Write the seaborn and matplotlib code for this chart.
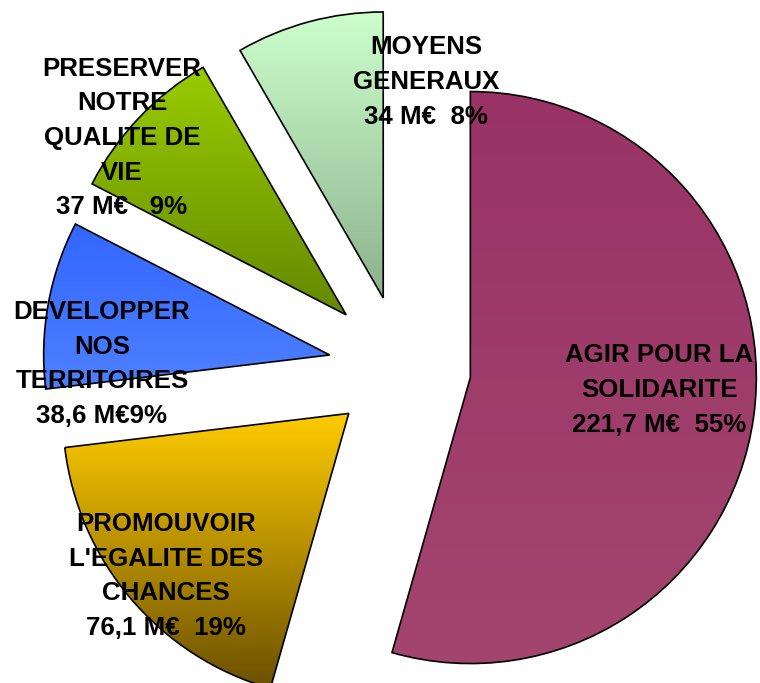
import matplotlib
matplotlib.use('Agg')
import numpy as np
import matplotlib.pyplot as plt
import matplotlib.colors as mcolors
import seaborn as sns


# budget par axe (M€), dans l'ordre des parts en tournant depuis midi
axes_budget = [
    "AGIR POUR LA\nSOLIDARITE",
    "PROMOUVOIR\nL'EGALITE DES\nCHANCES",
    "DEVELOPPER\nNOS\nTERRITOIRES",
    "PRESERVER\nNOTRE\nQUALITE DE\nVIE",
    "MOYENS\nGENERAUX",
]
montants = [221.7, 76.1, 38.6, 37.0, 34.0]
montants_txt = ["221,7 M€  ", "76,1 M€  ", "38,6 M€", "37 M€   ", "34 M€  "]
pourcents = [55, 19, 9, 9, 8]

# degrades (haut -> bas) de chaque part
couleurs_haut = ['#993366', '#FFCC00', '#3366FF', '#99CC00', '#CCFFCC']
couleurs_bas = ['#A3456F', '#6B5000', '#4D80FF', '#648800', '#8DB18D']

# mise en page en pixels
W, H = 760, 683
centre = (402, H - 368)
rayon = 286
ecartement = [69, 70, 73.5, 77, 72.5]
pos_etiquettes = [(659, H - 390), (166, H - 576), (102, H - 364),
                  (122, H - 138), (426, H - 82)]

sns.set_theme(style="white")
plt.rcParams['font.family'] = ['Liberation Sans', 'DejaVu Sans']

fig = plt.figure(figsize=(W / 100, H / 100), dpi=100)
ax = fig.add_axes([0, 0, 1, 1])

parts, _ = ax.pie(montants, explode=ecartement, center=centre, radius=rayon,
                  startangle=90, counterclock=False,
                  wedgeprops=dict(facecolor='none', edgecolor='black', linewidth=1.2, zorder=3))

# remplissage en degrade vertical, clippe sur chaque part
for part, c_haut, c_bas in zip(parts, couleurs_haut, couleurs_bas):
    ext = part.get_path().get_extents()
    t = np.linspace(0, 1, 256)[:, None]
    rgb = (1 - t) * np.array(mcolors.to_rgb(c_haut)) + t * np.array(mcolors.to_rgb(c_bas))
    img = ax.imshow(rgb[:, None, :], extent=[ext.x0, ext.x1, ext.y0, ext.y1],
                    origin='upper', aspect='auto', interpolation='bilinear', zorder=2)
    img.set_clip_path(part)

for nom, m, p, (x, y) in zip(axes_budget, montants_txt, pourcents, pos_etiquettes):
    ax.text(x, y, f"{nom}\n{m}{p}%", ha='center', va='center', multialignment='center',
            fontsize=18.6, fontweight='bold', color='black', linespacing=1.56, zorder=5)

ax.set_xlim(0, W)
ax.set_ylim(0, H)
ax.set_aspect('equal')
ax.axis('off')

fig.savefig('out.png', dpi=100, facecolor='white')
